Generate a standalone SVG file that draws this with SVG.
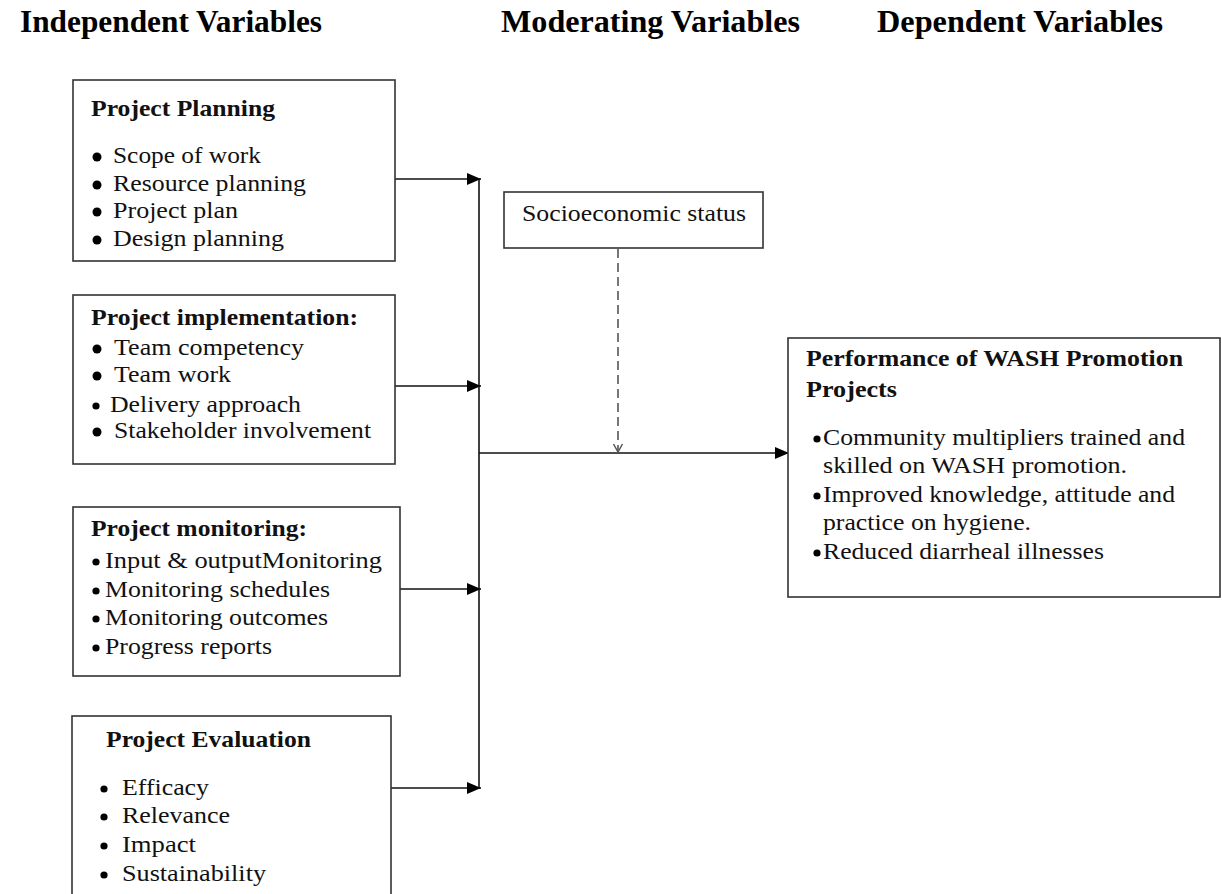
<svg xmlns="http://www.w3.org/2000/svg" width="1222" height="894" viewBox="0 0 1222 894">
<defs>
<style>
.hdr{font-family:"Liberation Serif","Times New Roman",serif;font-weight:bold;font-size:31px;fill:#000}
.ttl{font-family:"Liberation Serif","Times New Roman",serif;font-weight:bold;font-size:23px;fill:#111}
.itm{font-family:"Liberation Serif","Times New Roman",serif;font-size:24px;fill:#111}
.box{fill:#fff;stroke:#333;stroke-width:1.6}
.con{fill:none;stroke:#111;stroke-width:1.6}
.dash{fill:none;stroke:#555;stroke-width:1.6;stroke-dasharray:9 5}
.dot{fill:#000}
</style>
<marker id="arr" markerUnits="userSpaceOnUse" markerWidth="16" markerHeight="14" refX="15" refY="7" orient="auto">
<path d="M1,1 L15,7 L1,13 Z" fill="#000"/>
</marker>
<marker id="open" markerUnits="userSpaceOnUse" markerWidth="12" markerHeight="12" refX="10" refY="6" orient="auto">
<path d="M2,1.5 L10,6 L2,10.5" fill="none" stroke="#555" stroke-width="1.5"/>
</marker>
</defs>
<rect width="1222" height="894" fill="#fff"/>

<g id="headers">
<text class="hdr" x="20" y="32" textLength="302" lengthAdjust="spacingAndGlyphs">Independent Variables</text>
<text class="hdr" x="501" y="32" textLength="299" lengthAdjust="spacingAndGlyphs">Moderating Variables</text>
<text class="hdr" x="877" y="32" textLength="286" lengthAdjust="spacingAndGlyphs">Dependent Variables</text>
</g>

<g id="connectors">
<line class="con" x1="395" y1="179" x2="481" y2="179" marker-end="url(#arr)"/>
<line class="con" x1="395" y1="386" x2="481" y2="386" marker-end="url(#arr)"/>
<line class="con" x1="400" y1="589" x2="481" y2="589" marker-end="url(#arr)"/>
<line class="con" x1="389" y1="788" x2="481" y2="788" marker-end="url(#arr)"/>
<line class="con" x1="479" y1="178" x2="479" y2="789"/>
<line class="con" x1="479" y1="453" x2="789" y2="453" marker-end="url(#arr)"/>
<line class="dash" x1="618" y1="249" x2="618" y2="452" marker-end="url(#open)"/>
</g>

<g id="planning">
<rect class="box" x="73" y="80" width="322" height="181"/>
<text class="ttl" x="91" y="116" textLength="184" lengthAdjust="spacingAndGlyphs">Project Planning</text>
<circle class="dot" cx="97" cy="157" r="4.5"/>
<circle class="dot" cx="97" cy="185" r="4.5"/>
<circle class="dot" cx="97" cy="212" r="4.5"/>
<circle class="dot" cx="97" cy="240" r="4.5"/>
<text class="itm" x="113" y="163" textLength="148" lengthAdjust="spacingAndGlyphs">Scope of work</text>
<text class="itm" x="113" y="191" textLength="193" lengthAdjust="spacingAndGlyphs">Resource planning</text>
<text class="itm" x="113" y="218" textLength="125" lengthAdjust="spacingAndGlyphs">Project plan</text>
<text class="itm" x="113" y="246" textLength="171" lengthAdjust="spacingAndGlyphs">Design planning</text>
</g>

<g id="implementation">
<rect class="box" x="73" y="295" width="322" height="169"/>
<text class="ttl" x="91" y="325" textLength="267" lengthAdjust="spacingAndGlyphs">Project implementation:</text>
<circle class="dot" cx="97" cy="349" r="4.5"/>
<circle class="dot" cx="97" cy="376" r="4.5"/>
<circle class="dot" cx="96" cy="406" r="3.6"/>
<circle class="dot" cx="97" cy="432" r="4.5"/>
<text class="itm" x="114" y="355" textLength="190" lengthAdjust="spacingAndGlyphs">Team competency</text>
<text class="itm" x="114" y="382" textLength="117" lengthAdjust="spacingAndGlyphs">Team work</text>
<text class="itm" x="110" y="412" textLength="191" lengthAdjust="spacingAndGlyphs">Delivery approach</text>
<text class="itm" x="114" y="438" textLength="257" lengthAdjust="spacingAndGlyphs">Stakeholder involvement</text>
</g>

<g id="monitoring">
<rect class="box" x="73" y="507" width="327" height="169"/>
<text class="ttl" x="91" y="536" textLength="216" lengthAdjust="spacingAndGlyphs">Project monitoring:</text>
<circle class="dot" cx="96" cy="562" r="3.6"/>
<circle class="dot" cx="96" cy="591" r="3.6"/>
<circle class="dot" cx="96" cy="619" r="3.6"/>
<circle class="dot" cx="96" cy="648" r="3.6"/>
<text class="itm" x="105" y="568" textLength="277" lengthAdjust="spacingAndGlyphs">Input &amp; outputMonitoring</text>
<text class="itm" x="105" y="597" textLength="225" lengthAdjust="spacingAndGlyphs">Monitoring schedules</text>
<text class="itm" x="105" y="625" textLength="223" lengthAdjust="spacingAndGlyphs">Monitoring outcomes</text>
<text class="itm" x="105" y="654" textLength="167" lengthAdjust="spacingAndGlyphs">Progress reports</text>
</g>

<g id="evaluation">
<rect class="box" x="72" y="716" width="319" height="190"/>
<text class="ttl" x="106" y="747" textLength="205" lengthAdjust="spacingAndGlyphs">Project Evaluation</text>
<circle class="dot" cx="104" cy="789" r="3.6"/>
<circle class="dot" cx="104" cy="817" r="3.6"/>
<circle class="dot" cx="104" cy="846" r="3.6"/>
<circle class="dot" cx="104" cy="875" r="3.6"/>
<text class="itm" x="122" y="795" textLength="87" lengthAdjust="spacingAndGlyphs">Efficacy</text>
<text class="itm" x="122" y="823" textLength="108" lengthAdjust="spacingAndGlyphs">Relevance</text>
<text class="itm" x="122" y="852" textLength="74" lengthAdjust="spacingAndGlyphs">Impact</text>
<text class="itm" x="122" y="881" textLength="144" lengthAdjust="spacingAndGlyphs">Sustainability</text>
</g>

<g id="socioeconomic">
<rect class="box" x="504" y="192" width="259" height="56"/>
<text class="itm" x="522" y="221" textLength="224" lengthAdjust="spacingAndGlyphs">Socioeconomic status</text>
</g>

<g id="performance">
<rect class="box" x="788" y="338" width="432" height="259"/>
<text class="ttl" x="806" y="366" textLength="377" lengthAdjust="spacingAndGlyphs">Performance of WASH Promotion</text>
<text class="ttl" x="806" y="397" textLength="91" lengthAdjust="spacingAndGlyphs">Projects</text>
<circle class="dot" cx="817" cy="439" r="3.6"/>
<circle class="dot" cx="817" cy="496" r="3.6"/>
<circle class="dot" cx="817" cy="553" r="3.6"/>
<text class="itm" x="823" y="445" textLength="362" lengthAdjust="spacingAndGlyphs">Community multipliers trained and</text>
<text class="itm" x="823" y="473" textLength="304" lengthAdjust="spacingAndGlyphs">skilled on WASH promotion.</text>
<text class="itm" x="823" y="502" textLength="352" lengthAdjust="spacingAndGlyphs">Improved knowledge, attitude and</text>
<text class="itm" x="823" y="530" textLength="208" lengthAdjust="spacingAndGlyphs">practice on hygiene.</text>
<text class="itm" x="823" y="559" textLength="281" lengthAdjust="spacingAndGlyphs">Reduced diarrheal illnesses</text>
</g>
</svg>
